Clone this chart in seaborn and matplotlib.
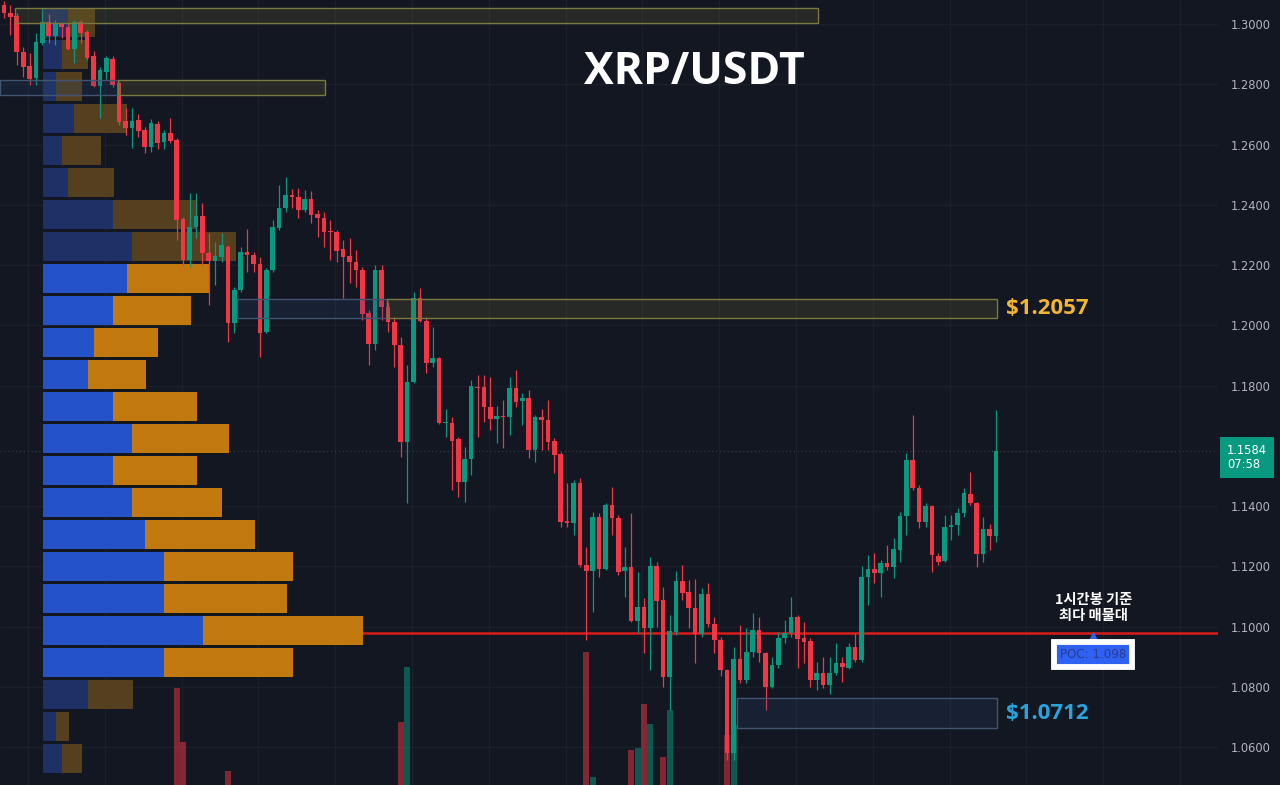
import numpy as np
import pandas as pd
import seaborn as sns
import matplotlib
matplotlib.use("Agg")
import matplotlib.pyplot as plt
from matplotlib.patches import Rectangle
from matplotlib.transforms import blended_transform_factory, offset_copy

# ---------------- data (1h candles, XRP/USDT) ----------------
opens = [1.3063, 1.3037, 1.3027, 1.2907, 1.2860, 1.2821, 1.2937, 1.3007, 1.2960, 1.3000,
         1.2990, 1.2917, 1.3007, 1.2973, 1.2893, 1.2794, 1.2841, 1.2884, 1.2804, 1.2678,
         1.2655, 1.2681, 1.2648, 1.2592, 1.2668, 1.2608, 1.2638, 1.2615, 1.2353, 1.2216,
         1.2326, 1.2363, 1.2240, 1.2213, 1.2227, 1.2260, 1.2007, 1.2117, 1.2243, 1.2233,
         1.2203, 1.1977, 1.2183, 1.2323, 1.2389, 1.2432, 1.2426, 1.2383, 1.2419, 1.2369,
         1.2356, 1.2313, 1.2310, 1.2253, 1.2230, 1.2210, 1.2183, 1.2040, 1.1938, 1.2183,
         1.2061, 1.2011, 1.1934, 1.1612, 1.1812, 1.2090, 1.2014, 1.1875, 1.1891, 1.1676,
         1.1676, 1.1622, 1.1480, 1.1556, 1.1795, 1.1795, 1.1729, 1.1689, 1.1699, 1.1695,
         1.1792, 1.1748, 1.1758, 1.1586, 1.1695, 1.1685, 1.1616, 1.1573, 1.1350, 1.1343,
         1.1476, 1.1204, 1.1184, 1.1363, 1.1191, 1.1403, 1.1360, 1.1184, 1.1198, 1.1018,
         1.1065, 1.0995, 1.1201, 1.1088, 1.0832, 1.0982, 1.1151, 1.1114, 1.1061, 1.0975,
         1.1108, 1.1008, 1.0955, 1.0856, 1.0580, 1.0892, 1.0822, 1.0915, 1.0988, 1.0912,
         1.0799, 1.0872, 1.0962, 1.0978, 1.1032, 1.0962, 1.0952, 1.0822, 1.0845, 1.0806,
         1.0845, 1.0879, 1.0862, 1.0932, 1.0889, 1.1164, 1.1191, 1.1178, 1.1211, 1.1198,
         1.1254, 1.1367, 1.1553, 1.1460, 1.1347, 1.1400, 1.1234, 1.1217, 1.1330, 1.1337,
         1.1377, 1.1440, 1.1410, 1.1241, 1.1324, 1.1300]
highs = [1.3075, 1.3063, 1.3035, 1.2924, 1.2904, 1.2970, 1.3053, 1.3033, 1.3013, 1.3007,
         1.3003, 1.3013, 1.3013, 1.2980, 1.2910, 1.2857, 1.2893, 1.2893, 1.2807, 1.2721,
         1.2721, 1.2701, 1.2658, 1.2685, 1.2678, 1.2648, 1.2688, 1.2622, 1.2359, 1.2439,
         1.2439, 1.2406, 1.2306, 1.2277, 1.2306, 1.2266, 1.2127, 1.2260, 1.2320, 1.2243,
         1.2227, 1.2190, 1.2349, 1.2466, 1.2492, 1.2452, 1.2456, 1.2449, 1.2446, 1.2383,
         1.2376, 1.2349, 1.2316, 1.2283, 1.2290, 1.2250, 1.2193, 1.2051, 1.2200, 1.2200,
         1.2077, 1.2027, 1.1961, 1.1868, 1.2110, 1.2124, 1.2027, 1.1994, 1.1894, 1.1722,
         1.1695, 1.1629, 1.1596, 1.1818, 1.1835, 1.1835, 1.1828, 1.1732, 1.1752, 1.1828,
         1.1852, 1.1775, 1.1785, 1.1702, 1.1722, 1.1752, 1.1626, 1.1579, 1.1476, 1.1486,
         1.1493, 1.1264, 1.1380, 1.1377, 1.1410, 1.1463, 1.1370, 1.1264, 1.1377, 1.1181,
         1.1095, 1.1231, 1.1214, 1.1131, 1.1038, 1.1184, 1.1204, 1.1155, 1.1158, 1.1128,
         1.1144, 1.1032, 1.0965, 1.0859, 1.0932, 1.1005, 1.0995, 1.1045, 1.1032, 1.0915,
         1.0899, 1.0982, 1.1022, 1.1098, 1.1038, 1.1015, 1.0962, 1.0882, 1.0899, 1.0899,
         1.0945, 1.0899, 1.0945, 1.0978, 1.1201, 1.1237, 1.1244, 1.1221, 1.1271, 1.1294,
         1.1380, 1.1576, 1.1702, 1.1470, 1.1410, 1.1403, 1.1244, 1.1370, 1.1370, 1.1393,
         1.1460, 1.1513, 1.1413, 1.1363, 1.1340, 1.1719]
lows = [1.3020, 1.2963, 1.2864, 1.2824, 1.2797, 1.2797, 1.2930, 1.2937, 1.2930, 1.2953,
        1.2913, 1.2870, 1.2937, 1.2880, 1.2790, 1.2688, 1.2817, 1.2790, 1.2665, 1.2631,
        1.2588, 1.2625, 1.2572, 1.2575, 1.2585, 1.2585, 1.2605, 1.2283, 1.2200, 1.2193,
        1.2290, 1.2200, 1.2067, 1.2134, 1.2210, 1.1944, 1.1974, 1.2110, 1.2177, 1.2177,
        1.1894, 1.1974, 1.2177, 1.2316, 1.2376, 1.2389, 1.2356, 1.2376, 1.2339, 1.2293,
        1.2260, 1.2217, 1.2210, 1.2090, 1.2140, 1.2127, 1.2017, 1.1868, 1.1918, 1.2017,
        1.1978, 1.1861, 1.1563, 1.1410, 1.1808, 1.2011, 1.1841, 1.1861, 1.1672, 1.1629,
        1.1453, 1.1430, 1.1413, 1.1503, 1.1629, 1.1679, 1.1652, 1.1609, 1.1592, 1.1636,
        1.1729, 1.1669, 1.1559, 1.1546, 1.1586, 1.1586, 1.1510, 1.1330, 1.1330, 1.1304,
        1.1198, 1.0955, 1.1048, 1.1164, 1.1188, 1.1304, 1.1171, 1.1098, 1.1015, 1.0978,
        1.0912, 1.0856, 1.1000, 1.0799, 1.0723, 1.0972, 1.1088, 1.0995, 1.0879, 1.0965,
        1.0998, 1.0912, 1.0836, 1.0557, 1.0557, 1.0812, 1.0812, 1.0899, 1.0882, 1.0723,
        1.0796, 1.0862, 1.0945, 1.0965, 1.0862, 1.0879, 1.0799, 1.0789, 1.0796, 1.0776,
        1.0839, 1.0816, 1.0859, 1.0882, 1.0882, 1.1072, 1.1145, 1.1098, 1.1188, 1.1161,
        1.1214, 1.1304, 1.1453, 1.1327, 1.1330, 1.1181, 1.1204, 1.1214, 1.1287, 1.1304,
        1.1363, 1.1403, 1.1198, 1.1214, 1.1254, 1.1280]
closes = [1.3037, 1.3023, 1.2907, 1.2857, 1.2817, 1.2940, 1.3007, 1.2960, 1.3003, 1.2990,
          1.2917, 1.3007, 1.2970, 1.2887, 1.2794, 1.2847, 1.2887, 1.2797, 1.2675, 1.2655,
          1.2678, 1.2645, 1.2592, 1.2671, 1.2605, 1.2638, 1.2612, 1.2349, 1.2216, 1.2326,
          1.2363, 1.2240, 1.2213, 1.2230, 1.2266, 1.2007, 1.2117, 1.2243, 1.2233, 1.2203,
          1.1974, 1.2183, 1.2326, 1.2389, 1.2432, 1.2426, 1.2383, 1.2419, 1.2366, 1.2356,
          1.2310, 1.2310, 1.2246, 1.2227, 1.2210, 1.2183, 1.2037, 1.1938, 1.2183, 1.2061,
          1.2011, 1.1934, 1.1612, 1.1812, 1.2090, 1.2014, 1.1875, 1.1891, 1.1676, 1.1679,
          1.1616, 1.1480, 1.1556, 1.1798, 1.1792, 1.1729, 1.1689, 1.1699, 1.1695, 1.1792,
          1.1745, 1.1758, 1.1586, 1.1695, 1.1685, 1.1612, 1.1569, 1.1347, 1.1343, 1.1476,
          1.1204, 1.1184, 1.1363, 1.1191, 1.1403, 1.1360, 1.1181, 1.1198, 1.1018, 1.1065,
          1.0995, 1.1201, 1.1085, 1.0832, 1.0985, 1.1151, 1.1111, 1.1061, 1.0975, 1.1108,
          1.1008, 1.0955, 1.0856, 1.0580, 1.0892, 1.0822, 1.0915, 1.0988, 1.0912, 1.0799,
          1.0872, 1.0962, 1.0978, 1.1032, 1.0959, 1.0948, 1.0822, 1.0845, 1.0806, 1.0845,
          1.0879, 1.0866, 1.0932, 1.0889, 1.1164, 1.1191, 1.1178, 1.1211, 1.1198, 1.1257,
          1.1367, 1.1553, 1.1460, 1.1347, 1.1400, 1.1237, 1.1214, 1.1330, 1.1337, 1.1377,
          1.1443, 1.1410, 1.1241, 1.1324, 1.1300, 1.1584]

# volume bars that reach into the visible part of the chart (millions XRP)
vol_idx = [27, 28, 35, 62, 63, 91, 92, 98, 99, 100, 101, 103, 104, 113, 114]
vol_val = [12.7, 7.3, 4.4, 9.3, 14.8, 16.3, 3.8, 6.5, 6.7, 11.1, 9.1, 5.8, 10.5, 8.0, 9.0]

# visible-range volume profile (bin centre price, buy / sell volume)
profile_levels = [1.3005, 1.2899, 1.2793, 1.2686, 1.2580, 1.2474, 1.2368, 1.2261,
                  1.2155, 1.2049, 1.1943, 1.1837, 1.1730, 1.1624, 1.1518, 1.1412,
                  1.1306, 1.1199, 1.1093, 1.0987, 1.0881, 1.0775, 1.0668, 1.0562]
profile_buy = [25, 19, 13, 31, 19, 25, 70, 89, 84, 70, 51, 45,
               70, 89, 70, 89, 102, 121, 121, 160, 121, 45, 13, 19]
profile_sell = [27, 26, 26, 53, 39, 46, 84, 104, 82, 78, 64, 58,
                84, 97, 84, 90, 110, 129, 123, 160, 129, 45, 13, 20]
va_high, va_low = 1.2155, 1.0881
poc_price = 1.098

# 1.1600 is hidden behind the last-price tag
price_ticks = [1.30, 1.28, 1.26, 1.24, 1.22, 1.20, 1.18, 1.14, 1.12, 1.10, 1.08, 1.06]
last_price = 1.1584
bar_timer = "07:58"

# drawn zones: candle start / end, price low / high, kind
zone_start = [1.7, -0.6, 17.8, 36.4, 59.8, 114.5]
zone_end = [127.2, 17.8, 50.2, 59.8, 155.2, 155.2]
zone_low = [1.3003, 1.2764, 1.2764, 1.2024, 1.2024, 1.0663]
zone_high = [1.3053, 1.2814, 1.2814, 1.2087, 1.2087, 1.0763]
zone_kind = ["supply", "demand", "supply", "demand", "supply", "demand"]
level_labels = [("$1.2057", 1.2057, "#f2b531"), ("$1.0712", 1.0712, "#2aa3dc")]

# ---------------- style ----------------
BG = "#131722"
GRID = "#1c202b"
RED = "#f23645"
GREEN = "#089981"
BLUE = "#2452c8"
BLUE_DIM = "#1d3166"
ORANGE = "#c2790f"
ORANGE_DIM = "#54401f"

sns.set_theme(style="dark", rc={"axes.facecolor": BG, "figure.facecolor": BG,
                                "axes.edgecolor": BG, "grid.color": GRID})
plt.rcParams["font.family"] = ["Noto Sans", "Noto Sans CJK KR", "DejaVu Sans"]

opens, highs, lows, closes = map(np.array, (opens, highs, lows, closes))
x = np.arange(len(opens))
up = closes >= opens
colors = np.where(up, GREEN, RED)

fig = plt.figure(figsize=(12.8, 7.85), dpi=100)
ax = fig.add_axes([0, 0, 1218 / 1280, 1])
ax_p = fig.add_axes([0, 0, 1218 / 1280, 1])   # scale only, for the profile widths
ax_p.set_axis_off()
ax_p.set_xlim(-43, 1175)

xlim = (-0.625, 189.7)
ylim = (1.04739, 1.30797)

# grid
ax.set_axisbelow(True)
ax.grid(True, color=GRID, lw=0.9)

# volume profile
trans = blended_transform_factory(ax_p.transData, ax.transData)
in_va = [va_low - 1e-6 <= lv <= va_high + 1e-6 for lv in profile_levels]
ax.barh(profile_levels, profile_buy, height=0.0096, left=0,
        color=[BLUE if v else BLUE_DIM for v in in_va], transform=trans, zorder=2, lw=0)
ax.barh(profile_levels, profile_sell, height=0.0096, left=profile_buy,
        color=[ORANGE if v else ORANGE_DIM for v in in_va], transform=trans, zorder=2, lw=0)

# POC line
ax.hlines(poc_price, 6.1, xlim[1], color="#d81b1b", lw=1.8, zorder=1.5)

# last price dotted line
ax.axhline(last_price, color="#3f4452", lw=0.8, ls=(0, (1, 2.5)), zorder=1)

# candles
ax.vlines(x, lows, highs, colors=colors, lw=0.9, zorder=3)
body_lo = np.minimum(opens, closes)
body_h = np.maximum(np.abs(closes - opens), 0.0004)
ax.bar(x, body_h, bottom=body_lo, width=0.72, color=colors, lw=0, zorder=4)

# zones
for s, e, lo, hi, kind in zip(zone_start, zone_end, zone_low, zone_high, zone_kind):
    if kind == "supply":
        fc, ec = "#6e6b30", "#7c7940"
    else:
        fc, ec = "#2d4670", "#415472"
    ax.add_patch(Rectangle((s, lo), e - s, hi - lo, fc=fc, alpha=0.22, lw=0, zorder=5))
    ax.add_patch(Rectangle((s, lo), e - s, hi - lo, fill=False, ec=ec, lw=1.0, zorder=5))

for txt, p, c in level_labels:
    ax.annotate(txt, xy=(155.2, p), xytext=(6, 0), textcoords="offset points",
                ha="left", va="center", fontsize=16, fontweight="bold", color=c,
                family=["Open Sans", "DejaVu Sans"], zorder=6)

# POC annotation
poc_x = 170.2
ax.annotate("1시간봉 기준\n최다 매물대", xy=(poc_x, poc_price), xytext=(0, 7),
            textcoords="offset points", ha="center", va="bottom", fontsize=10.3,
            fontweight="bold", color="white", linespacing=1.2,
            family=["Noto Sans CJK KR", "DejaVu Sans"], zorder=6)
ax.plot([poc_x], [poc_price], marker="^", ms=8, color="#2f62f2", mec="none", zorder=6,
        transform=offset_copy(ax.transData, fig=fig, y=-3, units="points"))
ax.annotate("POC: 1.098", xy=(poc_x, poc_price), xytext=(0, -16), textcoords="offset points",
            ha="center", va="center", fontsize=8.6, color="#2a3b8c",
            family=["DejaVu Sans"],
            bbox=dict(boxstyle="square,pad=0.5", fc="#2f62f2", ec="white", lw=4.2), zorder=7)

# volume (own scale, baseline below the visible area)
ax_v = ax.twinx()
vol_df = pd.DataFrame({"idx": vol_idx, "volume": vol_val})
vol_df["side"] = np.where(up[vol_idx], "up", "down")
sns.barplot(data=vol_df, x="idx", y="volume", hue="side", palette={"up": GREEN, "down": RED},
            native_scale=True, dodge=False, width=0.95, alpha=0.5, saturation=1,
            errorbar=None, legend=False, linewidth=0, ax=ax_v)
ax_v.set_ylim(3.0, 81.5)
ax_v.yaxis.set_visible(False)
ax_v.grid(False)
ax_v.set_xlabel("")
ax_v.set_ylabel("")
for sp in ax_v.spines.values():
    sp.set_visible(False)

# axes
ax.set_xlim(*xlim)
ax.set_ylim(*ylim)
ax.set_xticks(np.arange(3.75, 190, 12))
ax.set_xticklabels([])
ax.tick_params(axis="x", length=0)
ax.yaxis.tick_right()
ax.set_yticks(price_ticks)
ax.set_yticklabels([f"{p:.4f}" for p in price_ticks], family="DejaVu Sans")
ax.tick_params(axis="y", length=0, pad=9, labelsize=8.3, labelcolor="#b2b5be")
for sp in ax.spines.values():
    sp.set_visible(False)

# last price tag
ax.annotate(f"{last_price:.4f}\n{bar_timer}", xy=(1.0, last_price),
            xycoords=("axes fraction", "data"), xytext=(6.5, -5), textcoords="offset points",
            ha="left", va="center", fontsize=8.3, color="white", linespacing=1.15,
            family="DejaVu Sans", annotation_clip=False,
            bbox=dict(boxstyle="square,pad=0.6", fc=GREEN, ec="none"), zorder=8)

fig.text(694 / 1280, 1 - 72 / 785, "XRP/USDT", ha="center", va="center", fontsize=32,
         fontweight="bold", color="white", family=["Open Sans", "DejaVu Sans"])

fig.savefig("out.png", dpi=100, facecolor=BG)
